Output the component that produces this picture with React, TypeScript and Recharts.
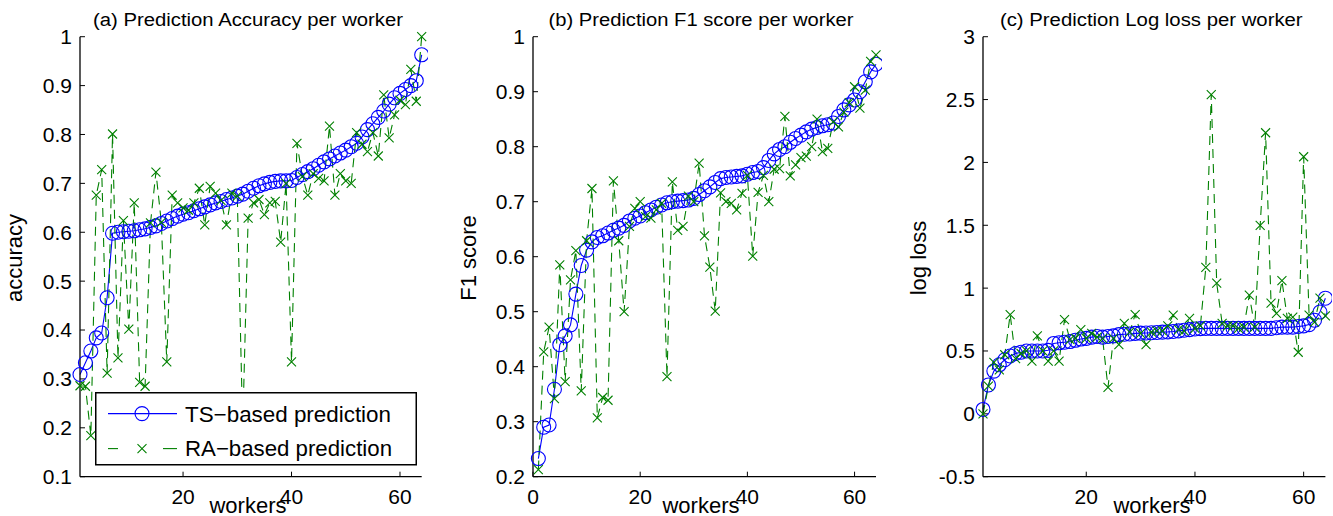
import { LineChart, Line, XAxis, YAxis, Legend } from 'recharts';

const FONT = '"Liberation Sans", Arial, Helvetica, sans-serif';
const BLUE = '#0000ff';
const GREEN = '#008000';

const workers = [
  1, 2, 3, 4, 5, 6, 7, 8, 9, 10, 11, 12, 13, 14, 15, 16, 17, 18, 19, 20, 21, 22, 23, 24, 25, 26, 27, 28, 29, 30, 31, 32,
  33, 34, 35, 36, 37, 38, 39, 40, 41, 42, 43, 44, 45, 46, 47, 48, 49, 50, 51, 52, 53, 54, 55, 56, 57, 58, 59, 60, 61, 62, 63, 64,
];

// (a) accuracy
const accTS = [
  0.309, 0.333, 0.357, 0.384, 0.394, 0.466, 0.598, 0.6, 0.601, 0.602, 0.603, 0.605, 0.607, 0.61, 0.613, 0.618, 0.623, 0.628,
  0.633, 0.637, 0.64, 0.644, 0.648, 0.652, 0.656, 0.66, 0.663, 0.667, 0.67, 0.674, 0.678, 0.684, 0.69, 0.695, 0.699, 0.702,
  0.704, 0.705, 0.705, 0.706, 0.712, 0.718, 0.724, 0.73, 0.737, 0.744, 0.75, 0.756, 0.762, 0.768, 0.775, 0.782, 0.795, 0.81,
  0.822, 0.835, 0.848, 0.862, 0.875, 0.884, 0.892, 0.9, 0.91, 0.963,
];
const accRA = [
  0.286, 0.285, 0.184, 0.676, 0.728, 0.312, 0.801, 0.343, 0.624, 0.402, 0.66, 0.293, 0.285, 0.619, 0.723, 0.62, 0.335, 0.676,
  0.66, 0.65, 0.645, 0.66, 0.69, 0.615, 0.694, 0.68, 0.665, 0.615, 0.68, 0.674, 0.2, 0.629, 0.66, 0.667, 0.636, 0.66, 0.663,
  0.58, 0.7, 0.335, 0.782, 0.714, 0.676, 0.72, 0.71, 0.705, 0.817, 0.676, 0.72, 0.705, 0.7, 0.804, 0.78, 0.765, 0.804, 0.756,
  0.881, 0.793, 0.84, 0.87, 0.861, 0.933, 0.868, 1.0,
];

// (b) F1 score
const f1TS = [
  0.233, 0.29, 0.294, 0.359, 0.44, 0.456, 0.476, 0.532, 0.584, 0.612, 0.627, 0.635, 0.638, 0.643, 0.648, 0.652, 0.657, 0.665,
  0.67, 0.674, 0.68, 0.685, 0.69, 0.694, 0.698, 0.7, 0.701, 0.702, 0.703, 0.706, 0.713, 0.72, 0.727, 0.735, 0.742, 0.744,
  0.745, 0.746, 0.747, 0.75, 0.753, 0.755, 0.762, 0.775, 0.787, 0.795, 0.8, 0.808, 0.815, 0.821, 0.827, 0.832, 0.835, 0.838,
  0.84, 0.843, 0.855, 0.867, 0.876, 0.885, 0.9, 0.918, 0.936, 0.95,
];
const f1RA = [
  0.213, 0.427, 0.472, 0.342, 0.585, 0.373, 0.558, 0.611, 0.356, 0.629, 0.724, 0.307, 0.344, 0.339, 0.738, 0.629, 0.5, 0.655,
  0.688, 0.7, 0.673, 0.67, 0.685, 0.697, 0.382, 0.736, 0.648, 0.655, 0.71, 0.7, 0.77, 0.638, 0.581, 0.501, 0.716, 0.7, 0.697,
  0.685, 0.715, 0.748, 0.601, 0.717, 0.748, 0.7, 0.759, 0.76, 0.855, 0.747, 0.767, 0.78, 0.783, 0.8, 0.85, 0.791, 0.797,
  0.845, 0.836, 0.863, 0.88, 0.909, 0.87, 0.903, 0.955, 0.967,
];

// (c) log loss
const llTS = [
  0.035, 0.23, 0.34, 0.39, 0.43, 0.46, 0.48, 0.49, 0.5, 0.5, 0.5, 0.5, 0.505, 0.56, 0.565, 0.57, 0.575, 0.585, 0.595, 0.6,
  0.61, 0.615, 0.61, 0.615, 0.62, 0.63, 0.633, 0.635, 0.64, 0.642, 0.643, 0.645, 0.647, 0.65, 0.652, 0.655, 0.66, 0.665,
  0.67, 0.675, 0.678, 0.68, 0.68, 0.68, 0.68, 0.68, 0.68, 0.68, 0.68, 0.68, 0.68, 0.68, 0.68, 0.68, 0.685, 0.69, 0.69, 0.69,
  0.695, 0.7, 0.71, 0.745, 0.81, 0.92,
];
const llRA = [
  0.0, 0.22, 0.41, 0.35, 0.47, 0.79, 0.44, 0.48, 0.5, 0.42, 0.62, 0.5, 0.42, 0.5, 0.42, 0.75, 0.59, 0.6, 0.67, 0.6, 0.64,
  0.61, 0.6, 0.21, 0.6, 0.55, 0.72, 0.65, 0.79, 0.64, 0.55, 0.65, 0.66, 0.66, 0.7, 0.786, 0.67, 0.66, 0.76, 0.68, 0.7, 1.165,
  2.54, 1.04, 0.72, 0.7, 0.7, 0.68, 0.69, 0.945, 0.69, 1.5, 2.236, 0.88, 0.8, 1.06, 0.76, 0.77, 0.49, 2.045, 0.786, 0.73,
  0.92, 0.78,
];

const accTicks = [0.1, 0.2, 0.3, 0.4, 0.5, 0.6, 0.7, 0.8, 0.9, 1];
const f1Ticks = [0.2, 0.3, 0.4, 0.5, 0.6, 0.7, 0.8, 0.9, 1];
const llTicks = [-0.5, 0, 0.5, 1, 1.5, 2, 2.5, 3];
const xTicksA = [20, 40, 60];
const xTicksB = [0, 20, 40, 60];

function XMark(props: any) {
  const { cx, cy } = props;
  if (cx == null || cy == null) return null;
  const s = 4.5;
  return (
    <path
      d={`M${cx - s},${cy - s}L${cx + s},${cy + s}M${cx - s},${cy + s}L${cx + s},${cy - s}`}
      stroke={GREEN}
      strokeWidth={1.1}
      fill="none"
    />
  );
}

function LegendBox() {
  const txt = { fontFamily: FONT, fontSize: 22, fill: '#000' };
  return (
    <svg width={322} height={74} style={{ display: 'block' }}>
      <rect x={0.75} y={0.75} width={320.5} height={72} fill="#fff" stroke="#000" strokeWidth={1.5} />
      <line x1={13} x2={82} y1={21.6} y2={21.6} stroke={BLUE} strokeWidth={1.1} />
      <circle cx={47} cy={21.6} r={7} fill="none" stroke={BLUE} strokeWidth={1.1} />
      <text x={90} y={30} {...txt} textLength={206} lengthAdjust="spacingAndGlyphs">TS−based prediction</text>
      <line x1={13} x2={23} y1={56.6} y2={56.6} stroke={GREEN} strokeWidth={1.1} />
      <line x1={68} x2={82} y1={56.6} y2={56.6} stroke={GREEN} strokeWidth={1.1} />
      <XMark cx={47} cy={56.6} />
      <text x={90} y={64.3} {...txt} textLength={207} lengthAdjust="spacingAndGlyphs">RA−based prediction</text>
    </svg>
  );
}

type PanelProps = {
  plotLeft: number;
  plotWidth: number;
  ts: number[];
  ra: number[];
  xDomain: [number, number];
  xTicks: number[];
  yDomain: [number, number];
  yTicks: number[];
  legend?: boolean;
};

function Panel({ plotLeft, plotWidth, ts, ra, xDomain, xTicks, yDomain, yTicks, legend }: PanelProps) {
  const rows = workers.map((w, i) => ({ w, ts: ts[i], ra: ra[i] }));
  const tickFont = { fill: '#000', fontSize: 21, fontFamily: FONT };
  const axisLine = { stroke: '#000', strokeWidth: 1.3 };
  const tickLine = { stroke: '#000', strokeWidth: 1 };
  return (
    <div style={{ position: 'absolute', left: plotLeft - 80, top: 0 }}>
      <LineChart
        width={80 + plotWidth + 6}
        height={516}
        data={rows}
        margin={{ top: 36.7, right: 6, bottom: 0, left: 0 }}
      >
        <XAxis
          xAxisId="b"
          type="number"
          dataKey="w"
          domain={xDomain}
          ticks={xTicks}
          interval={0}
          height={39.3}
          tickSize={-5}
          tickMargin={17.5}
          tick={tickFont}
          tickLine={tickLine}
          axisLine={axisLine}
        />
        <XAxis
          xAxisId="t"
          orientation="top"
          type="number"
          dataKey="w"
          domain={xDomain}
          ticks={xTicks}
          interval={0}
          height={0}
          tickSize={-5}
          tick={false}
          tickLine={tickLine}
          axisLine={axisLine}
        />
        <YAxis
          yAxisId="l"
          type="number"
          domain={yDomain}
          ticks={yTicks}
          interval={0}
          width={80}
          tickSize={-5}
          tickMargin={13}
          tick={tickFont}
          tickLine={tickLine}
          axisLine={axisLine}
        />
        <YAxis
          yAxisId="r"
          orientation="right"
          type="number"
          domain={yDomain}
          ticks={yTicks}
          interval={0}
          width={0}
          tickSize={-5}
          tick={false}
          tickLine={tickLine}
          axisLine={axisLine}
        />
        <Line
          xAxisId="b"
          yAxisId="l"
          type="linear"
          dataKey="ts"
          stroke={BLUE}
          strokeWidth={1.1}
          dot={{ r: 7, stroke: BLUE, strokeWidth: 1.1, fill: 'none' }}
          activeDot={false}
          isAnimationActive={false}
        />
        <Line
          xAxisId="b"
          yAxisId="l"
          type="linear"
          dataKey="ra"
          stroke={GREEN}
          strokeWidth={1.1}
          strokeDasharray="9 6"
          dot={(p: any) => <XMark key={`x-${p.index}`} cx={p.cx} cy={p.cy} />}
          activeDot={false}
          isAnimationActive={false}
        />
        {legend && (
          <Legend
            layout="horizontal"
            verticalAlign="middle"
            align="center"
            content={() => <LegendBox />}
            wrapperStyle={{ position: 'absolute', left: 95 - (plotLeft - 80), top: 391.7, width: 322, height: 74 }}
          />
        )}
      </LineChart>
    </div>
  );
}

export default function App() {
  const title = { fontFamily: FONT, fontSize: 18, fill: '#000', textAnchor: 'middle' as const };
  const lab = { fontFamily: FONT, fontSize: 22, fill: '#000', textAnchor: 'middle' as const };
  return (
    <div style={{ position: 'absolute', left: 0, top: 0, width: 1333, height: 516, background: '#fff', fontFamily: FONT, overflow: 'hidden' }}>
      <Panel plotLeft={80} plotWidth={341.7} ts={accTS} ra={accRA} xDomain={[1, 64]} xTicks={xTicksA} yDomain={[0.1, 1]} yTicks={accTicks} legend />
      <Panel plotLeft={532.7} plotWidth={343} ts={f1TS} ra={f1RA} xDomain={[0, 64]} xTicks={xTicksB} yDomain={[0.2, 1]} yTicks={f1Ticks} />
      <Panel plotLeft={983.3} plotWidth={342.4} ts={llTS} ra={llRA} xDomain={[1, 64]} xTicks={xTicksA} yDomain={[-0.5, 3]} yTicks={llTicks} />
      <svg width={1333} height={516} style={{ position: 'absolute', left: 0, top: 0, pointerEvents: 'none' }}>
        <text x={248} y={25.7} {...title} textLength={310} lengthAdjust="spacingAndGlyphs">(a) Prediction Accuracy per worker</text>
        <text x={701} y={25.7} {...title} textLength={305} lengthAdjust="spacingAndGlyphs">(b) Prediction F1 score per worker</text>
        <text x={1151.3} y={25.7} {...title} textLength={302.7} lengthAdjust="spacingAndGlyphs">(c) Prediction Log loss per worker</text>
        <text x={248} y={513} {...lab}>workers</text>
        <text x={701} y={513} {...lab}>workers</text>
        <text x={1152} y={513} {...lab}>workers</text>
        <text x={21.5} y={258} {...lab} transform="rotate(-90 21.5 258)">accuracy</text>
        <text x={476} y={258} {...lab} transform="rotate(-90 476 258)">F1 score</text>
        <text x={926} y={258} {...lab} transform="rotate(-90 926 258)">log loss</text>
      </svg>
    </div>
  );
}
